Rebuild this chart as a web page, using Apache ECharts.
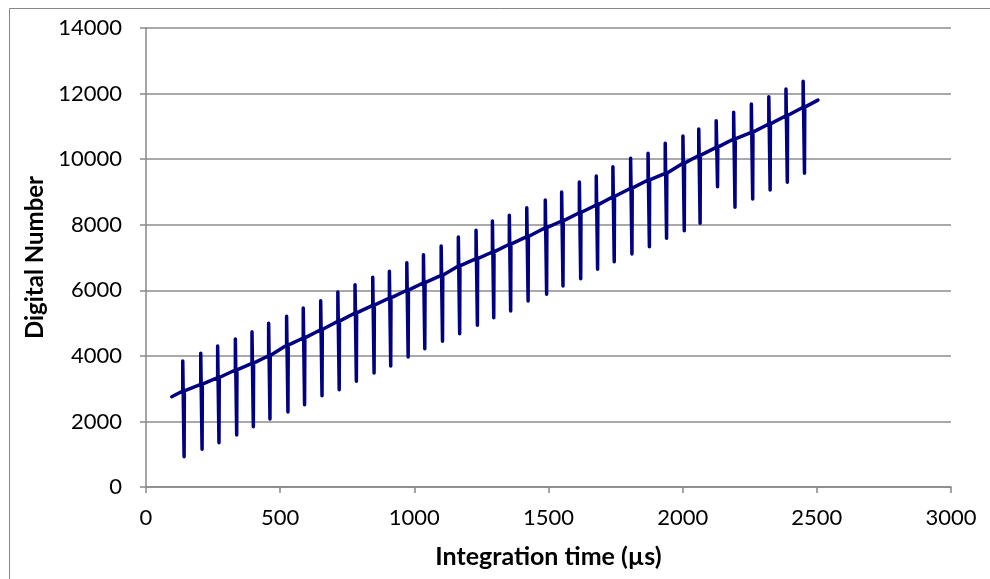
<!DOCTYPE html>
<html>
<head>
<meta charset="utf-8">
<script src="https://cdn.jsdelivr.net/npm/echarts@6/dist/echarts.min.js"></script>
<style>
html,body{margin:0;padding:0;background:#fff;}
#chart{width:990px;height:579px;}
</style>
</head>
<body>
<div id="chart"></div>
<script>
// Start / end of the trace
var startPoint = [96, 2754];
var endPoint = [2504, 11800];
// Spike times (µs)
var spikeTimes = [137, 204, 267, 333, 395, 457, 524, 586, 651, 715, 779, 845, 907, 972, 1034, 1100, 1164, 1230,
  1291, 1354, 1419, 1488, 1549, 1615, 1678, 1740, 1806, 1871, 1935, 2001, 2060, 2125, 2190, 2256, 2321, 2385, 2449];
// Baseline value where each spike occurs
var baseValues = [2928, 3132, 3334, 3569, 3773, 4005, 4322, 4545, 4798, 5054, 5307, 5542, 5765, 6000, 6231, 6457, 6741, 6963,
  7168, 7403, 7635, 7909, 8113, 8366, 8601, 8855, 9111, 9364, 9568, 9873, 10110, 10360, 10614, 10819, 11072, 11325, 11581];
// Spike maxima
var spikeTops = [3843, 4078, 4300, 4514, 4737, 4993, 5206, 5460, 5683, 5948, 6171, 6396, 6579, 6841, 7085, 7351, 7625, 7829,
  8113, 8287, 8519, 8754, 8998, 9303, 9486, 9770, 10026, 10178, 10483, 10706, 10919, 11173, 11428, 11682, 11905, 12139, 12374];
// Spike minima
var spikeBottoms = [924, 1150, 1351, 1586, 1839, 2074, 2288, 2511, 2785, 2968, 3224, 3477, 3691, 3965, 4218, 4444, 4676, 4932,
  5164, 5368, 5673, 5877, 6131, 6354, 6640, 6872, 7107, 7330, 7586, 7818, 8043, 9160, 8531, 8784, 9059, 9293, 9568];
// Time lag between spike maximum and minimum (µs)
var spikeLag = 5;
// Axis ticks
var xTicks = [0, 500, 1000, 1500, 2000, 2500, 3000];
var yTicks = [0, 2000, 4000, 6000, 8000, 10000, 12000, 14000];

var data = [startPoint];
for (var i = 0; i < spikeTimes.length; i++) {
  var t = spikeTimes[i];
  data.push([t, baseValues[i]]);
  data.push([t, spikeTops[i]]);
  data.push([t + spikeLag, spikeBottoms[i]]);
  data.push([t + spikeLag + 1, baseValues[i] + 5]);
}
data.push(endPoint);

var font = 'Lato, "Open Sans", sans-serif';
var chart = echarts.init(document.getElementById('chart'), null, {renderer: 'canvas'});
chart.setOption({
  animation: false,
  backgroundColor: '#ffffff',
  graphic: [{
    type: 'rect', left: 7, top: 6, shape: {width: 1000, height: 600},
    style: {fill: 'none', stroke: '#888888', lineWidth: 1}, silent: true, z: -1
  }],
  grid: {left: 146, right: 39, top: 28, bottom: 92},
  xAxis: {
    type: 'value', min: xTicks[0], max: xTicks[xTicks.length - 1], interval: 500,
    name: 'Integration time (µs)', nameLocation: 'middle', nameGap: 57,
    nameTextStyle: {fontFamily: font, fontSize: 25, fontWeight: 'bold', color: '#000'},
    axisLine: {show: true, onZero: false, lineStyle: {color: '#888888', width: 1.5}},
    axisTick: {show: true, inside: false, length: 6, lineStyle: {color: '#888888', width: 1.5}},
    axisLabel: {fontFamily: font, fontSize: 22, color: '#000', margin: 20, formatter: function (v) { return String(v); }},
    splitLine: {show: false}
  },
  yAxis: {
    type: 'value', min: yTicks[0], max: yTicks[yTicks.length - 1], interval: 2000,
    name: 'Digital Number', nameLocation: 'middle', nameGap: 93,
    nameTextStyle: {fontFamily: font, fontSize: 24, fontWeight: 'bold', color: '#000'},
    axisLine: {show: true, lineStyle: {color: '#888888', width: 1.5}},
    axisTick: {show: true, inside: false, length: 6, lineStyle: {color: '#888888', width: 1.5}},
    axisLabel: {fontFamily: font, fontSize: 22, color: '#000', margin: 24, formatter: function (v) { return String(v); }},
    splitLine: {show: true, lineStyle: {color: '#8c8c8c', width: 1.5}}
  },
  series: [{
    type: 'line', data: data, showSymbol: false, smooth: false,
    lineStyle: {color: '#000080', width: 3.5, join: 'round', cap: 'round'},
    itemStyle: {color: '#000080'}
  }]
});
</script>
</body>
</html>
